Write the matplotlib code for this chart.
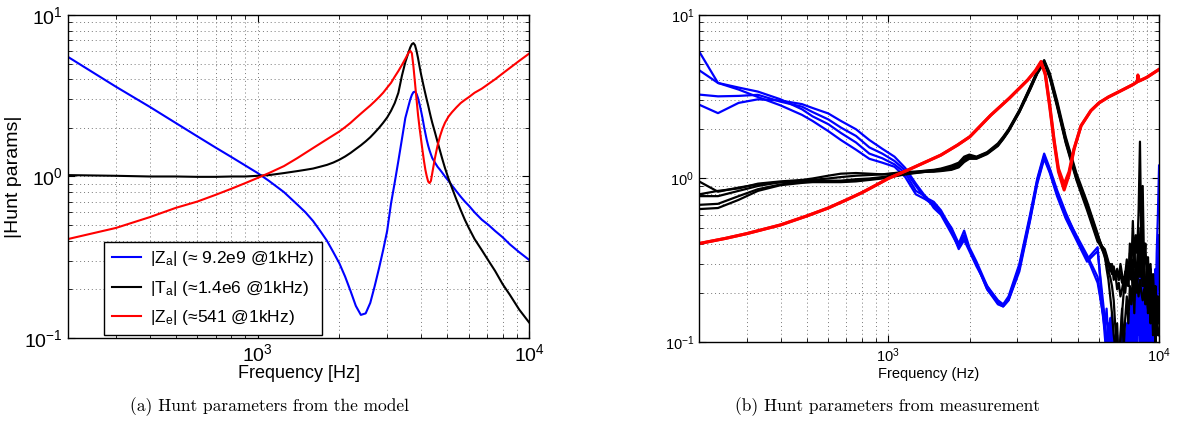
import matplotlib
matplotlib.use("Agg")
import matplotlib.pyplot as plt
from matplotlib.ticker import LogLocator, NullFormatter

plt.rcParams['font.family'] = ['Liberation Sans', 'DejaVu Sans']
plt.rcParams['mathtext.fontset'] = 'custom'
plt.rcParams['mathtext.rm'] = 'Liberation Sans'
plt.rcParams['mathtext.it'] = 'Liberation Sans'
plt.rcParams['mathtext.bf'] = 'Liberation Sans:bold'

# ---- (a) model curves ----
f_model = [200, 300, 400, 500, 600, 700, 800, 900, 1000, 1100,
           1250, 1400, 1500, 1600, 1700, 1800, 1900, 2000, 2100, 2200,
           2300, 2400, 2500, 2600, 2700, 2800, 2900, 3000, 3100, 3200,
           3300, 3400, 3500, 3600, 3650, 3700, 3750, 3800, 3850, 3900,
           3950, 4000, 4050, 4100, 4150, 4200, 4250, 4300, 4350, 4400,
           4500, 4600, 4700, 4800, 4900, 5050, 5200, 5400, 5600, 5800,
           6000, 6300, 6700, 7100, 7500, 8000, 8500, 9200, 10000]
za_model = [5.5, 3.6, 2.7, 2.14, 1.77, 1.51, 1.32, 1.17, 1.05, 0.94,
            0.80, 0.67, 0.60, 0.53, 0.46, 0.40, 0.34, 0.29, 0.24, 0.195,
            0.158, 0.139, 0.142, 0.165, 0.21, 0.27, 0.35, 0.46, 0.68, 0.92,
            1.25, 1.7, 2.3, 2.75, 3.0, 3.2, 3.33, 3.35, 3.25, 3.05,
            2.8, 2.55, 2.3, 2.05, 1.85, 1.68, 1.55, 1.45, 1.37, 1.3,
            1.22, 1.15, 1.1, 1.05, 1.0, 0.94, 0.88, 0.81, 0.75, 0.70,
            0.66, 0.60, 0.54, 0.50, 0.46, 0.42, 0.38, 0.34, 0.305]
ta_model = [1.02, 1.01, 1.0, 1.0, 0.995, 0.995, 1.0, 1.0, 1.01, 1.02,
            1.05, 1.08, 1.1, 1.12, 1.15, 1.18, 1.22, 1.27, 1.33, 1.4,
            1.48, 1.56, 1.65, 1.75, 1.87, 2.0, 2.15, 2.32, 2.55, 2.85,
            3.3, 4.2, 5.1, 5.9, 6.3, 6.6, 6.7, 6.5, 6.0, 5.4,
            4.8, 4.3, 3.9, 3.55, 3.25, 2.98, 2.75, 2.52, 2.32, 2.15,
            1.88, 1.64, 1.44, 1.27, 1.13, 0.97, 0.85, 0.72, 0.62, 0.54,
            0.48, 0.41, 0.35, 0.30, 0.26, 0.215, 0.185, 0.15, 0.125]
ze_model = [0.41, 0.48, 0.56, 0.64, 0.70, 0.77, 0.84, 0.91, 0.98, 1.05,
            1.16, 1.3, 1.4, 1.5, 1.6, 1.7, 1.8, 1.9, 2.02, 2.15,
            2.3, 2.45, 2.6, 2.75, 2.92, 3.1, 3.3, 3.55, 3.8, 4.15,
            4.5, 4.9, 5.35, 5.85, 6.0, 5.8, 4.8, 3.8, 3.0, 2.4,
            2.0, 1.7, 1.45, 1.25, 1.1, 1.0, 0.93, 0.91, 0.94, 1.05,
            1.3, 1.55, 1.78, 1.98, 2.15, 2.35, 2.5, 2.68, 2.85, 2.98,
            3.1, 3.3, 3.5, 3.75, 4.0, 4.35, 4.7, 5.2, 5.76]
legend_labels = [r'$|Z_a|$ (≈ 9.2e9 @1kHz)',
                 r'$|T_a|$ (≈1.4e6 @1kHz)',
                 r'$|Z_e|$ (≈541 @1kHz)']

f_meas = [200, 235, 280, 330, 400, 480, 525, 600, 668, 760, 851, 950, 1054, 1155,
          1264, 1384, 1472, 1564, 1711, 1820, 1906, 1992, 2117, 2318, 2540, 2656,
          2780, 3048, 3337, 3550, 3764, 3950, 4200, 4520, 4950, 5420, 5930]
f_hf = [6300, 6400, 6500, 6600, 6700, 6800, 6900, 7000, 7100, 7200, 7300, 7400,
        7500, 7600, 7700, 7800, 7900, 8000, 8100, 8200, 8300, 8400, 8500, 8600,
        8700, 8800, 8900, 9000, 9100, 9200, 9300, 9400, 9500, 9600, 9700, 9800,
        9900, 10000]

za_meas = [
    [6.0, 3.84, 3.5, 3.15, 2.8, 2.45, 2.25, 1.95, 1.72, 1.5, 1.32, 1.25, 1.18, 1.02,
     0.80, 0.74, 0.68, 0.62, 0.50, 0.40, 0.48, 0.38, 0.31, 0.22, 0.18, 0.17,
     0.19, 0.30, 0.60, 1.0, 1.42, 1.15, 0.85, 0.62, 0.44, 0.33, 0.23],
    [4.6, 3.84, 3.6, 3.4, 3.05, 2.65, 2.4, 2.15, 1.9, 1.66, 1.42, 1.33, 1.22, 1.08,
     0.84, 0.77, 0.66, 0.60, 0.46, 0.38, 0.44, 0.37, 0.30, 0.21, 0.175, 0.168,
     0.185, 0.29, 0.58, 0.98, 1.38, 1.12, 0.82, 0.60, 0.45, 0.34, 0.25],
    [3.26, 3.18, 3.2, 3.25, 2.95, 2.75, 2.55, 2.3, 2.05, 1.82, 1.55, 1.42, 1.28, 1.12,
     0.90, 0.74, 0.70, 0.62, 0.48, 0.37, 0.42, 0.36, 0.29, 0.22, 0.172, 0.165,
     0.18, 0.28, 0.56, 0.95, 1.35, 1.10, 0.80, 0.58, 0.43, 0.32, 0.38],
    [2.83, 2.51, 2.9, 3.05, 3.0, 2.85, 2.7, 2.5, 2.25, 2.0, 1.72, 1.52, 1.36, 1.16,
     0.93, 0.76, 0.72, 0.64, 0.49, 0.39, 0.45, 0.37, 0.30, 0.21, 0.17, 0.165,
     0.18, 0.27, 0.55, 0.93, 1.32, 1.08, 0.78, 0.57, 0.42, 0.31, 0.36],
]
za_tail = [
    [0.13, 0.09, 0.07, 0.12, 0.08, 0.06, 0.05, 0.07, 0.05, 0.06, 0.05, 0.08, 0.06,
     0.05, 0.09, 0.13, 0.07, 0.18, 0.09, 0.22, 0.11, 0.16, 0.08, 0.25, 0.10, 0.14,
     0.07, 0.20, 0.09, 0.17, 0.08, 0.22, 0.10, 0.26, 0.12, 0.35, 0.6, 1.2],
    [0.12, 0.16, 0.10, 0.14, 0.09, 0.11, 0.07, 0.06, 0.08, 0.05, 0.07, 0.06, 0.10,
     0.07, 0.06, 0.15, 0.09, 0.12, 0.21, 0.10, 0.14, 0.26, 0.12, 0.09, 0.19, 0.11,
     0.24, 0.13, 0.08, 0.16, 0.28, 0.11, 0.18, 0.09, 0.22, 0.14, 0.3, 0.45],
    [0.11, 0.08, 0.13, 0.07, 0.10, 0.06, 0.09, 0.11, 0.06, 0.08, 0.12, 0.07, 0.05,
     0.11, 0.14, 0.08, 0.19, 0.10, 0.13, 0.07, 0.24, 0.12, 0.17, 0.10, 0.13, 0.23,
     0.09, 0.15, 0.20, 0.10, 0.13, 0.18, 0.25, 0.12, 0.16, 0.22, 0.18, 0.15],
    [0.14, 0.10, 0.08, 0.11, 0.15, 0.09, 0.07, 0.09, 0.06, 0.10, 0.08, 0.12, 0.09,
     0.13, 0.08, 0.11, 0.15, 0.21, 0.11, 0.16, 0.10, 0.19, 0.14, 0.27, 0.11, 0.17,
     0.12, 0.22, 0.14, 0.25, 0.12, 0.15, 0.11, 0.19, 0.28, 0.17, 0.21, 0.30],
]

ta_meas = [
    [0.96, 0.83, 0.88, 0.92, 0.95, 0.97, 0.98, 1.0, 1.02, 1.04, 1.05, 1.06, 1.07, 1.08,
     1.09, 1.1, 1.12, 1.14, 1.18, 1.22, 1.34, 1.38, 1.35, 1.44, 1.62, 1.78, 1.98,
     2.6, 3.6, 4.5, 5.25, 4.3, 2.9, 1.75, 1.05, 0.70, 0.45],
    [0.80, 0.84, 0.87, 0.93, 0.96, 0.98, 1.0, 1.04, 1.07, 1.08, 1.07, 1.06, 1.08, 1.1,
     1.1, 1.12, 1.13, 1.15, 1.2, 1.25, 1.36, 1.4, 1.36, 1.45, 1.64, 1.8, 2.0,
     2.62, 3.62, 4.55, 5.3, 4.4, 3.0, 1.8, 1.08, 0.72, 0.46],
    [0.78, 0.78, 0.84, 0.9, 0.95, 0.96, 0.96, 0.97, 0.97, 0.99, 1.0, 1.02, 1.05, 1.08,
     1.1, 1.11, 1.12, 1.12, 1.15, 1.2, 1.3, 1.36, 1.34, 1.43, 1.6, 1.76, 1.96,
     2.58, 3.55, 4.45, 5.2, 4.2, 2.85, 1.7, 1.02, 0.68, 0.43],
    [0.69, 0.70, 0.78, 0.86, 0.92, 0.95, 0.96, 0.96, 0.96, 0.97, 0.99, 1.01, 1.04, 1.06,
     1.08, 1.1, 1.11, 1.12, 1.14, 1.18, 1.28, 1.33, 1.33, 1.42, 1.6, 1.75, 1.95,
     2.55, 3.5, 4.4, 5.15, 4.15, 2.8, 1.68, 1.0, 0.66, 0.42],
    [0.65, 0.66, 0.74, 0.84, 0.91, 0.94, 0.95, 0.95, 0.95, 0.96, 0.98, 1.0, 1.03, 1.06,
     1.09, 1.1, 1.1, 1.11, 1.13, 1.17, 1.26, 1.32, 1.32, 1.41, 1.58, 1.74, 1.94,
     2.54, 3.48, 4.38, 5.1, 4.1, 2.75, 1.65, 0.98, 0.64, 0.41],
]
ta_tail = [
    [0.35, 0.31, 0.29, 0.30, 0.27, 0.28, 0.25, 0.27, 0.24, 0.26, 0.23, 0.25, 0.22,
     0.28, 0.24, 0.30, 0.26, 0.22, 0.25, 0.20, 0.23, 0.19, 0.24, 0.20, 0.18, 0.21,
     0.17, 0.19, 0.16, 0.20, 0.15, 0.18, 0.14, 0.17, 0.13, 0.16, 0.14, 0.13],
    [0.33, 0.30, 0.27, 0.25, 0.22, 0.18, 0.12, 0.08, 0.06, 0.10, 0.15, 0.20, 0.26,
     0.32, 0.22, 0.40, 0.28, 0.55, 0.30, 0.45, 0.35, 0.62, 1.68, 0.38, 0.90, 0.30,
     0.40, 0.25, 0.33, 0.22, 0.30, 0.20, 0.26, 0.18, 0.22, 0.16, 0.19, 0.14],
    [0.36, 0.33, 0.30, 0.27, 0.30, 0.24, 0.26, 0.21, 0.23, 0.19, 0.21, 0.24, 0.20,
     0.26, 0.22, 0.35, 0.24, 0.28, 0.21, 0.30, 0.24, 0.50, 0.32, 0.27, 0.22, 0.26,
     0.19, 0.23, 0.17, 0.21, 0.15, 0.19, 0.13, 0.17, 0.12, 0.15, 0.11, 0.12],
    [0.34, 0.28, 0.24, 0.19, 0.15, 0.11, 0.09, 0.13, 0.07, 0.11, 0.16, 0.09, 0.14,
     0.19, 0.13, 0.22, 0.17, 0.25, 0.15, 0.28, 0.20, 0.35, 0.25, 0.60, 0.22, 0.30,
     0.18, 0.24, 0.15, 0.21, 0.13, 0.18, 0.11, 0.16, 0.10, 0.14, 0.12, 0.11],
    [0.37, 0.34, 0.31, 0.29, 0.26, 0.29, 0.25, 0.28, 0.24, 0.30, 0.26, 0.22, 0.27,
     0.23, 0.29, 0.25, 0.32, 0.27, 0.38, 0.25, 0.30, 0.45, 0.27, 0.33, 0.24, 0.28,
     0.22, 0.25, 0.19, 0.24, 0.18, 0.22, 0.17, 0.20, 0.16, 0.19, 0.15, 0.17],
]

f_red = [200, 250, 300, 400, 500, 600, 700, 800, 900, 1000, 1200, 1400, 1563, 1800,
         2000, 2390, 2800, 3270, 3500, 3665, 3800, 3950, 4100, 4250, 4460, 4650,
         4850, 5150, 5600, 6000, 6500, 7000, 7500, 8000, 8300, 8350, 8450, 9000,
         9500, 10000]
ze_meas = [
    [0.40, 0.43, 0.46, 0.52, 0.59, 0.66, 0.74, 0.82, 0.91, 1.0, 1.14, 1.28, 1.39, 1.6,
     1.8, 2.44, 3.1, 4.0, 4.6, 5.2, 4.3, 2.7, 1.65, 1.1, 0.85, 1.05, 1.5, 2.1,
     2.6, 2.9, 3.15, 3.35, 3.55, 3.75, 3.9, 4.3, 3.95, 4.15, 4.4, 4.65],
    [0.40, 0.43, 0.46, 0.52, 0.59, 0.66, 0.74, 0.82, 0.91, 1.0, 1.14, 1.28, 1.39, 1.6,
     1.8, 2.44, 3.1, 4.0, 4.55, 5.1, 4.4, 2.8, 1.7, 1.15, 0.92, 1.1, 1.52, 2.1,
     2.6, 2.9, 3.15, 3.35, 3.55, 3.75, 3.9, 3.95, 3.95, 4.15, 4.4, 4.65],
]


def style_axes(ax, tick_size):
    ax.set_xscale('log')
    ax.set_yscale('log')
    ax.set_xlim(200, 10000)
    ax.set_ylim(0.1, 10)
    ax.xaxis.set_major_locator(LogLocator(base=10))
    ax.xaxis.set_minor_locator(LogLocator(base=10, subs=range(2, 10)))
    ax.yaxis.set_minor_locator(LogLocator(base=10, subs=range(2, 10)))
    ax.xaxis.set_minor_formatter(NullFormatter())
    ax.yaxis.set_minor_formatter(NullFormatter())
    ax.tick_params(which='both', direction='in', top=True, right=True,
                   labelsize=tick_size)
    ax.tick_params(which='major', length=5)
    ax.tick_params(which='minor', length=3)
    ax.grid(True, which='both', color='#777777', linestyle=(0, (1, 3)), linewidth=0.7)
    for sp in ax.spines.values():
        sp.set_linewidth(1.0)


fig = plt.figure(figsize=(11.79, 4.36), dpi=100)

# (a)
ax1 = fig.add_axes([0.0577, 0.2248, 0.3910, 0.7408])
style_axes(ax1, 14)
ax1.plot(f_model, za_model, color='#0000ff', lw=1.5, label=legend_labels[0])
ax1.plot(f_model, ta_model, color='black', lw=1.5, label=legend_labels[1])
ax1.plot(f_model, ze_model, color='#ff0000', lw=1.5, label=legend_labels[2])
ax1.set_xlabel('Frequency [Hz]', fontsize=13, labelpad=0)
ax1.set_ylabel('|Hunt params|', fontsize=14, labelpad=2)
leg = ax1.legend(loc='lower left', bbox_to_anchor=(0.078, 0.009), borderaxespad=0,
                 fontsize=12.5, fancybox=False, framealpha=1, edgecolor='black',
                 handlelength=1.7, labelspacing=0.6, borderpad=0.45,
                 handletextpad=0.5)
leg.get_frame().set_linewidth(1.0)

# (b)
ax2 = fig.add_axes([0.5929, 0.2156, 0.3902, 0.75])
style_axes(ax2, 10.5)
for vals, tail in zip(za_meas, za_tail):
    ax2.plot(f_meas + f_hf, vals + tail, color='#0000ff', lw=1.6)
for vals, tail in zip(ta_meas, ta_tail):
    ax2.plot(f_meas + f_hf, vals + tail, color='black', lw=1.6)
for vals in ze_meas:
    ax2.plot(f_red, vals, color='#ff0000', lw=2.2)
ax2.set_xlabel('Frequency (Hz)', fontsize=10.5, labelpad=1)

fig.text(0.229, 0.067, '(a) Hunt parameters from the model', fontsize=12.5,
         family='cmr10', ha='center', va='center')
fig.text(0.753, 0.067, '(b) Hunt parameters from measurement', fontsize=12.5,
         family='cmr10', ha='center', va='center')

fig.savefig('out.png', dpi=100)
